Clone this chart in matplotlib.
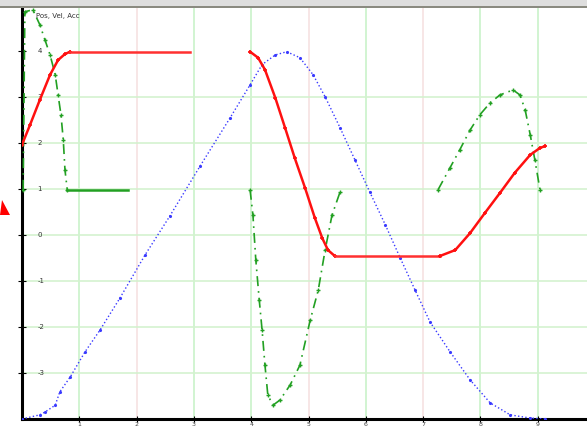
import matplotlib
matplotlib.use("Agg")
import matplotlib.pyplot as plt
from matplotlib.patches import Polygon, Rectangle

# ── data (time units, scaled values) ─────────────────────────────
pos_t = [0, 0.31, 0.40, 0.58, 0.66, 0.84, 1.10, 1.36, 1.71, 2.15, 2.58, 3.11, 3.63,
         3.98, 4.19, 4.42, 4.62, 4.85, 5.08, 5.29, 5.55, 5.81, 6.07, 6.34, 6.60,
         6.86, 7.12, 7.47, 7.82, 8.17, 8.52, 8.87, 9.13]
pos_v = [0, 0.09, 0.15, 0.30, 0.59, 0.91, 1.46, 1.93, 2.63, 3.57, 4.41, 5.50, 6.54,
         7.26, 7.70, 7.91, 7.98, 7.85, 7.48, 7.00, 6.33, 5.63, 4.93, 4.22, 3.50,
         2.80, 2.11, 1.46, 0.85, 0.35, 0.09, 0.02, 0]

vel1_t = [0, 0.14, 0.31, 0.49, 0.63, 0.75, 0.84, 2.93]
vel1_v = [5.96, 6.39, 6.93, 7.48, 7.80, 7.93, 7.98, 7.98]
vel2_t = [3.98, 4.12, 4.24, 4.42, 4.59, 4.76, 4.94, 5.11, 5.24, 5.34, 5.46,
          7.29, 7.56, 7.82, 8.08, 8.34, 8.60, 8.87, 9.04, 9.13]
vel2_v = [7.98, 7.85, 7.59, 6.98, 6.33, 5.67, 5.02, 4.37, 3.93, 3.67, 3.54,
          3.54, 3.67, 4.04, 4.48, 4.91, 5.35, 5.74, 5.89, 5.93]

acc1_t = [0.02, 0.05, 0.19, 0.31, 0.40, 0.49, 0.58, 0.63, 0.68, 0.72, 0.75, 0.79, 1.85]
acc1_v = [4.98, 8.85, 8.89, 8.57, 8.24, 7.91, 7.48, 7.04, 6.61, 6.07, 5.41, 4.98, 4.98]
acc2_t = [3.98, 4.03, 4.08, 4.14, 4.19, 4.24, 4.29, 4.38, 4.50, 4.68, 4.85, 5.03,
          5.17, 5.29, 5.41, 5.55]
acc2_v = [4.98, 4.43, 3.46, 2.59, 1.93, 1.17, 0.52, 0.30, 0.41, 0.74, 1.17, 2.15,
          2.80, 3.67, 4.43, 4.93]
acc3_t = [7.26, 7.47, 7.64, 7.82, 7.99, 8.17, 8.34, 8.57, 8.69, 8.78, 8.87, 8.95, 9.04]
acc3_v = [4.98, 5.46, 5.85, 6.28, 6.61, 6.87, 7.04, 7.15, 7.04, 6.72, 6.17, 5.63, 4.98]

x_ticks = [1, 2, 3, 4, 5, 6, 7, 8, 9]
y_ticks = [1, 2, 3, 4, 5, 6, 7, 8]
x_tick_labels = ["1", "2", "3", "4", "5", "6", "7", "8", "9"]
y_tick_labels = ["-3", "-2", "-1", "0", "1", "2", "3", "4"]

# ── figure ───────────────────────────────────────────────────────
W, H = 587, 429
fig = plt.figure(figsize=(W / 100, H / 100), dpi=100)
fig.patch.set_facecolor('white')
ax = fig.add_axes([22 / W, 10 / H, (W - 22) / W, 411 / H])
ax.set_xlim(0, 9.86)
ax.set_ylim(0, 8.93)

# grid (alternating soft colours as in the screenshot)
vcols = ['#c9f2c9', '#f6e2e2', '#c9f2c9', '#c9f2c9', '#f6e2e2', '#c9f2c9',
         '#f6e2e2', '#c9f2c9', '#c9f2c9']
for xv, c in zip(x_ticks, vcols):
    ax.axvline(xv, color=c, lw=1.2, zorder=0)
for yv in y_ticks[:-1]:
    ax.axhline(yv, color='#d4f2cf', lw=1.2, zorder=0)

# position (blue dotted)
ax.plot(pos_t, pos_v, color='#3a3aff', ls=':', lw=1.0, marker='.', ms=2.5, zorder=3)

# velocity (red)
rmk = dict(color='#ff1010', lw=1.8, marker='+', ms=3.5, mew=1.2, zorder=4)
ax.plot(vel1_t[:7], vel1_v[:7], **rmk)
ax.plot(vel1_t[6:], vel1_v[6:], color='#ff3030', lw=1.8, zorder=4)
ax.plot(vel2_t[:11], vel2_v[:11], **rmk)
ax.plot(vel2_t[10:12], vel2_v[10:12], color='#ff3030', lw=1.8, zorder=4)
ax.plot(vel2_t[11:], vel2_v[11:], **rmk)

# acceleration (green dash-dot)
gstyle = dict(color='#22a022', lw=1.2, ls=(0, (6, 3, 1, 3)), marker='+', ms=3.5, mew=1.0, zorder=3)
ax.plot(acc1_t[:12], acc1_v[:12], **gstyle)
ax.plot(acc1_t[11:], acc1_v[11:], color='#22a022', lw=1.8, zorder=3)
ax.plot(acc2_t, acc2_v, **gstyle)
ax.plot(acc3_t, acc3_v, **gstyle)

# axes styling
for s in ['top', 'right']:
    ax.spines[s].set_visible(False)
ax.spines['left'].set_linewidth(2.2)
ax.spines['bottom'].set_linewidth(2.2)
ax.set_xticks(x_ticks)
ax.set_xticklabels(x_tick_labels, fontsize=4.5, color='#444444')
ax.set_yticks(y_ticks)
ax.set_yticklabels(y_tick_labels, fontsize=5, color='#333333')
ax.tick_params(axis='y', direction='inout', length=6, pad=-14)
ax.tick_params(axis='x', direction='inout', length=4, pad=0)
for lbl in ax.get_yticklabels():
    lbl.set_horizontalalignment('left')

ax.text(0.25, 8.82, "Pos, Vel, Acc", fontsize=5, color='#333333', va='top')

# window chrome: top strip and red marker at the left edge
fig.patches.append(Rectangle((0, 1 - 7 / H), 1, 7 / H, transform=fig.transFigure,
                             facecolor='#dedede', edgecolor='none'))
fig.patches.append(Rectangle((0, 1 - 8 / H), 1, 1.5 / H, transform=fig.transFigure,
                             facecolor='#8a8a80', edgecolor='none'))
fig.patches.append(Polygon([(0, 1 - 215 / H), (10 / W, 1 - 215 / H), (2 / W, 1 - 200 / H)],
                           closed=True, transform=fig.transFigure,
                           facecolor='#ff0000', edgecolor='none'))

fig.savefig('out.png', dpi=100)
